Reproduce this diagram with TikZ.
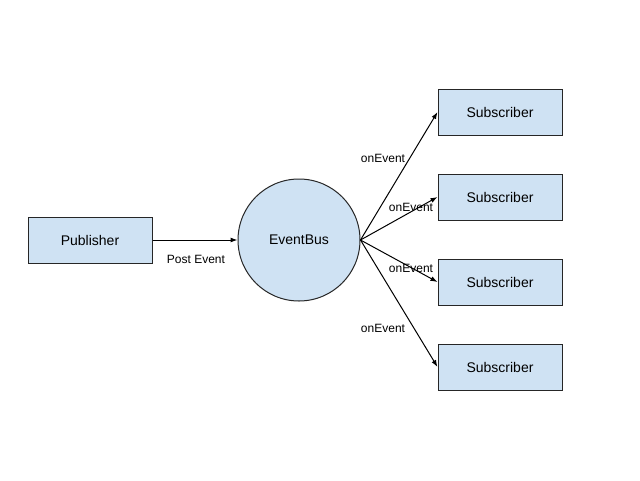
\documentclass[tikz,border=0pt]{standalone}
\usepackage{fontspec}
\setmainfont{Liberation Sans}
\usetikzlibrary{arrows.meta}
\definecolor{boxfill}{HTML}{CFE2F3}
\begin{document}
\begin{tikzpicture}[x=1pt,y=-1pt,
  box/.style={draw=black!85,fill=boxfill,line width=1pt,minimum width=124pt,minimum height=46pt,inner sep=0pt,font=\fontsize{14}{16}\selectfont},
  bus/.style={draw=black!85,fill=boxfill,line width=1pt,circle,minimum size=122pt,inner sep=0pt,font=\fontsize{14}{16}\selectfont},
  conn/.style={-{Latex[length=7pt,width=5pt]},line width=1pt,black},
  lbl/.style={font=\fontsize{12}{14}\selectfont,inner sep=0pt}]
\useasboundingbox[fill=white] (0,0) rectangle (640,480);
\node[box] (pub) at (90,240) {Publisher};
\node[bus] (bus) at (299,240) {EventBus};
\node[box] (s1) at (500,112) {Subscriber};
\node[box] (s2) at (500,197) {Subscriber};
\node[box] (s3) at (500,282) {Subscriber};
\node[box] (s4) at (500,367) {Subscriber};
\draw[conn] (pub) -- (bus);
\draw[conn] (bus.east) -- (s1.west);
\draw[conn] (bus.east) -- (s2.west);
\draw[conn] (bus.east) -- (s3.west);
\draw[conn] (bus.east) -- (s4.west);
\node[lbl] (lp) at (196,259) {Post Event};
\node[lbl] (l1) at (383,158) {onEvent};
\node[lbl] (l2) at (411,207) {onEvent};
\node[lbl] (l3) at (411,268) {onEvent};
\node[lbl] (l4) at (383,328) {onEvent};
\end{tikzpicture}
\end{document}
